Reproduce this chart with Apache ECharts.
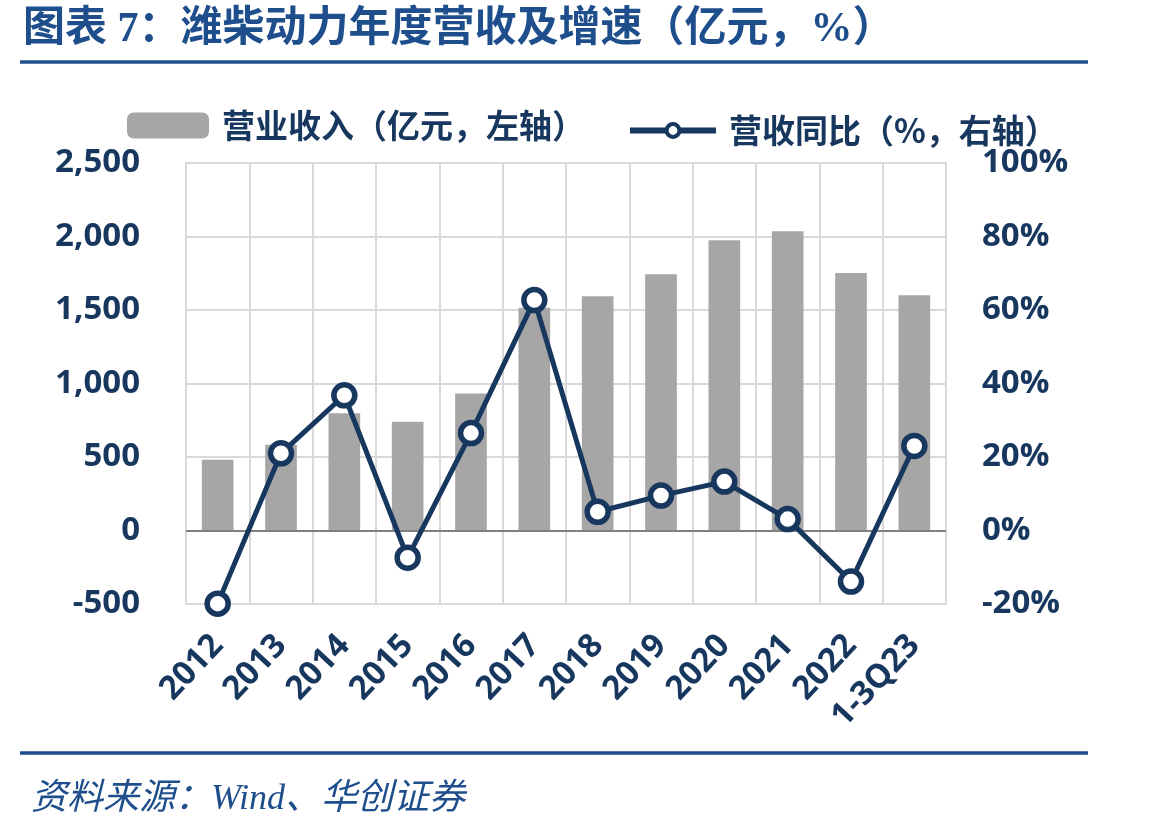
<!DOCTYPE html>
<html>
<head>
<meta charset="utf-8">
<title>潍柴动力年度营收及增速</title>
<script src="https://cdn.jsdelivr.net/npm/echarts@6/dist/echarts.min.js"></script>
<style>
	html, body { margin: 0; padding: 0; background: #fff; }
	#myChart { width: 1149px; height: 831px; }
</style>
</head>
<body>
<div id="myChart"></div>
<script>
	// 数据
	const years = ['2012', '2013', '2014', '2015', '2016', '2017', '2018', '2019', '2020', '2021', '2022', '1-3Q23']
	const revenue = [482, 583, 798, 739, 932, 1516, 1593, 1744, 1975, 2035, 1752, 1601]
	const growth = [-19.9, 21.0, 36.8, -7.4, 26.5, 62.7, 5.1, 9.5, 13.3, 3.1, -13.9, 23.0]

	const navy = '#17375e'
	const blue = '#1f4e8c'
	const numFont = '"Open Sans", "Noto Sans", sans-serif'
	const cjkFont = '"Noto Sans CJK SC", sans-serif'

	const legendText = {
		fontFamily: cjkFont,
		fontSize: 33,
		fontWeight: 'bold',
		color: navy,
		padding: [0, 0, 0, 8]
	}

	const myChart = echarts.init(document.getElementById('myChart'))
	myChart.setOption({
		animation: false,
		backgroundColor: '#fff',
		title: [{
				text: '图表 7：潍柴动力年度营收及增速（亿元，%）',
				left: 18,
				top: 4,
				textStyle: {
					fontFamily: '"Liberation Serif", "Noto Sans CJK SC", serif',
					fontSize: 42,
					fontWeight: 'bold',
					color: blue
				}
			},
			{
				text: '资料来源：Wind、华创证券',
				left: 26,
				top: 777,
				textStyle: {
					fontFamily: '"Liberation Serif", "Noto Sans CJK SC", serif',
					fontSize: 36,
					fontStyle: 'italic',
					fontWeight: 'normal',
					color: blue
				}
			}
		],
		graphic: [{
				type: 'line',
				shape: { x1: 20, y1: 62, x2: 1088, y2: 62 },
				style: { stroke: blue, lineWidth: 3.5 }
			},
			{
				type: 'line',
				shape: { x1: 20, y1: 753, x2: 1088, y2: 753 },
				style: { stroke: blue, lineWidth: 3.5 }
			}
		],
		legend: [{
				left: 122,
				top: 104,
				itemWidth: 82,
				itemHeight: 26,
				textStyle: legendText,
				data: ['营业收入（亿元，左轴）']
			},
			{
				left: 622,
				top: 109,
				itemWidth: 86,
				itemHeight: 16,
				lineStyle: { width: 6 },
				itemStyle: { borderWidth: 4 },
				textStyle: legendText,
				data: ['营收同比（%，右轴）']
			}
		],
		grid: {
			left: 186,
			right: 203,
			top: 163,
			bottom: 227,
			show: true,
			borderColor: '#d9d9d9',
			borderWidth: 2
		},
		xAxis: {
			type: 'category',
			data: years,
			position: 'bottom',
			axisLine: { show: false, onZero: false },
			axisTick: { show: false },
			splitLine: {
				show: true,
				lineStyle: { color: '#d9d9d9', width: 2 }
			},
			axisLabel: {
				interval: 0,
				rotate: 47,
				margin: 36,
				fontFamily: numFont,
				fontSize: 33,
				fontWeight: 'bold',
				color: navy
			}
		},
		yAxis: [{
				type: 'value',
				min: -500,
				max: 2500,
				interval: 500,
				axisLine: { show: false },
				axisTick: { show: false },
				splitLine: {
					lineStyle: { color: '#d9d9d9', width: 2 }
				},
				axisLabel: {
					margin: 46,
					fontFamily: numFont,
					fontSize: 33,
					fontWeight: 'bold',
					color: navy,
					formatter: function(v) {
						return v.toLocaleString('en-US')
					}
				}
			},
			{
				type: 'value',
				min: -20,
				max: 100,
				interval: 20,
				axisLine: { show: false },
				axisTick: { show: false },
				splitLine: { show: false },
				axisLabel: {
					margin: 36,
					fontFamily: numFont,
					fontSize: 33,
					fontWeight: 'bold',
					color: navy,
					formatter: '{value}%'
				}
			}
		],
		series: [{
				name: '营业收入（亿元，左轴）',
				type: 'bar',
				yAxisIndex: 0,
				barWidth: '50%',
				itemStyle: { color: '#a6a6a6' },
				data: revenue,
				markLine: {
					silent: true,
					symbol: 'none',
					label: { show: false },
					lineStyle: { color: '#808080', width: 2, type: 'solid' },
					data: [{ yAxis: 0 }]
				}
			},
			{
				name: '营收同比（%，右轴）',
				type: 'line',
				yAxisIndex: 1,
				z: 5,
				symbol: 'circle',
				symbolSize: 21,
				lineStyle: { color: navy, width: 5 },
				itemStyle: { color: '#fff', borderColor: navy, borderWidth: 5.5 },
				data: growth
			}
		]
	})
</script>
</body>
</html>
